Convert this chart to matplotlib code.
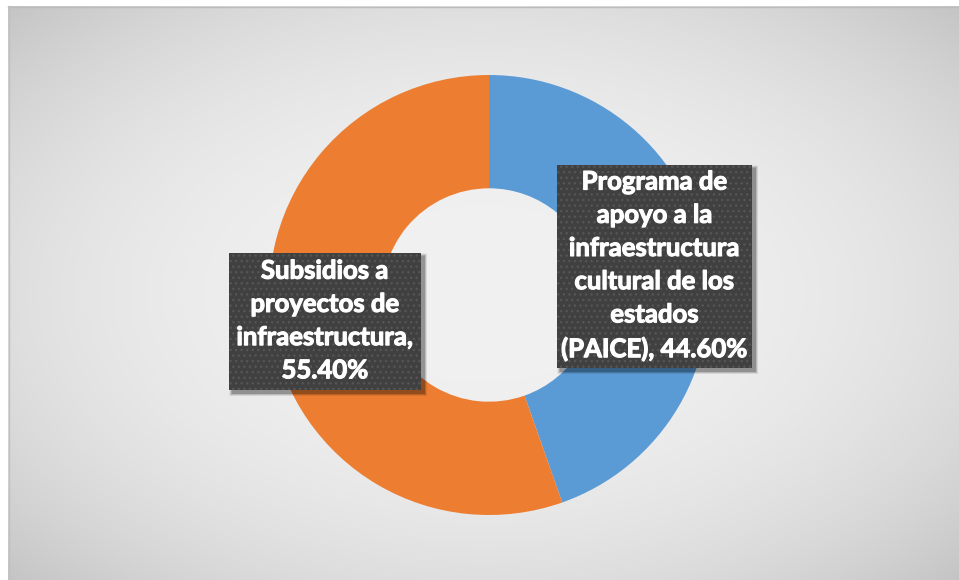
import numpy as np
import matplotlib.pyplot as plt
import matplotlib.patheffects as pe
from matplotlib.patches import Rectangle

# datos del gráfico
categorias = ['Programa de apoyo a la infraestructura cultural de los estados (PAICE)',
              'Subsidios a proyectos de infraestructura']
valores = [44.60, 55.40]
colores = ['#5B9BD5', '#ED7D31']
# etiquetas tal como aparecen, con sus saltos de línea
etiquetas = ['Programa de\napoyo a la\ninfraestructura\ncultural de los\nestados\n(PAICE), ',
             'Subsidios a\nproyectos de\ninfraestructura,\n']

W, H = 959, 580
fig = plt.figure(figsize=(W / 100, H / 100), dpi=100)
ax = fig.add_axes([0, 0, 1, 1])

# fondo con degradado radial
yy, xx = np.mgrid[6:H, 8:W]
cx, cy = 483, 293
d = np.sqrt(((xx - cx) / 475) ** 2 + ((yy - cy) / 287) ** 2) / np.sqrt(2)
gris = 0.945 - 0.175 * np.clip(d, 0, 1) ** 2.5
img = np.dstack([gris, gris, gris])
ax.imshow(img, extent=(8, W, 0, H - 6), origin='upper', zorder=0, aspect='auto')
ax.plot([8, W], [H - 6.5, H - 6.5], color='#bcbcbc', lw=1, zorder=1)
ax.plot([8.5, 8.5], [0, H - 6], color='#c0c0c0', lw=1, zorder=1)

# dona
R = 220
ax.pie(valores, colors=colores, startangle=90, counterclock=False,
       radius=R, center=(489, H - 295),
       wedgeprops=dict(width=R * 0.515, linewidth=0), frame=True)

# cuadros de etiquetas (x0, y0 arriba, x1, y1 abajo en píxeles de imagen)
cajas = [(557, 165, 752, 368), (229, 253, 421, 390)]
for (x0, y0, x1, y1), etq, v in zip(cajas, etiquetas, valores):
    for k, a in zip(range(6, 0, -1), [0.04, 0.05, 0.06, 0.08, 0.10, 0.12]):
        ax.add_patch(Rectangle((x0 + 3 - k / 2, H - y1 - 3 - k / 2), x1 - x0 + k, y1 - y0 + k,
                               facecolor='black', alpha=a, linewidth=0, zorder=3))
    ax.add_patch(Rectangle((x0, H - y1), x1 - x0, y1 - y0, facecolor='#404040',
                           edgecolor='#555555', hatch='...', linewidth=0, zorder=4))
    ax.text((x0 + x1) / 2, H - (y0 + y1) / 2 + 1, f'{etq}{v:.2f}%', color='white',
            ha='center', va='center', fontsize=18.5, fontweight='bold',
            family='Lato', linespacing=1.46, zorder=5,
            path_effects=[pe.withStroke(linewidth=0.8, foreground='white')])

ax.set_xlim(0, W)
ax.set_ylim(0, H)
ax.set_aspect('auto')
ax.axis('off')
fig.savefig('out.png', dpi=100, facecolor='white')
